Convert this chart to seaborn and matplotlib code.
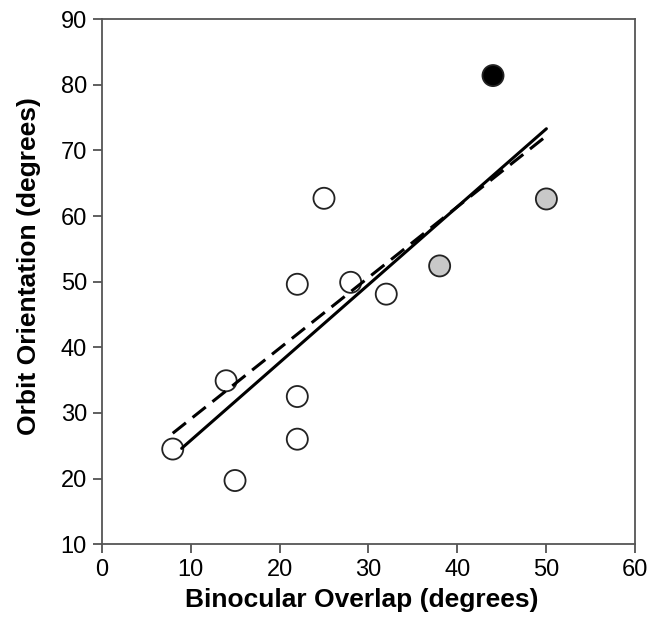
import numpy as np
import pandas as pd
import matplotlib
matplotlib.use("Agg")
import matplotlib.pyplot as plt
import seaborn as sns

# data
overlap = [8, 14, 15, 22, 22, 22, 25, 28, 32, 38, 50, 44]
orientation = [24.5, 34.9, 19.7, 49.6, 32.5, 26.0, 62.7, 49.9, 48.1, 52.4, 62.6, 81.4]
group = ["open"] * 9 + ["gray"] * 2 + ["black"]

# regression lines (endpoints as drawn)
solid_x = [9, 50]
solid_y = [24.6, 73.3]
dashed_x = [8, 50]
dashed_y = [26.9, 72.2]

x_ticks = [0, 10, 20, 30, 40, 50, 60]
y_ticks = [10, 20, 30, 40, 50, 60, 70, 80, 90]

sns.set_style("ticks")
plt.rcParams['font.family'] = ['Liberation Sans', 'DejaVu Sans']

df = pd.DataFrame({"overlap": overlap, "orientation": orientation, "group": group})

fig = plt.figure(figsize=(6.47, 6.17), dpi=100)
ax = fig.add_axes([0.157, 0.118, 0.825, 0.851])

palette = {"open": "white", "gray": "#c8c8c8", "black": "black"}
sns.scatterplot(data=df, x="overlap", y="orientation", hue="group", palette=palette,
                s=230, edgecolor="#222222", linewidth=1.3, legend=False, ax=ax, zorder=2)

sns.lineplot(x=solid_x, y=solid_y, color="black", linewidth=2.2, ax=ax, zorder=3)
sns.lineplot(x=dashed_x, y=dashed_y, color="black", linewidth=2.2, ax=ax, zorder=3,
             linestyle=(0, (5.5, 2.8)))

ax.set_xlim(0, 60)
ax.set_ylim(10, 90)
ax.set_xticks(x_ticks)
ax.set_yticks(y_ticks)
ax.tick_params(direction="out", length=6.5, width=1.2, colors="#444444",
               labelcolor="black", labelsize=17, pad=4)
for sp in ax.spines.values():
    sp.set_color("#555555")
    sp.set_linewidth(1.3)

ax.set_xlabel("Binocular Overlap (degrees)", fontsize=19, fontweight="bold", color="black")
ax.set_ylabel("Orbit Orientation (degrees)", fontsize=19, fontweight="bold", color="black")
ax.xaxis.set_label_coords(0.488, -0.083)
ax.yaxis.set_label_coords(-0.113, 0.53)

fig.savefig("out.png", dpi=100)
